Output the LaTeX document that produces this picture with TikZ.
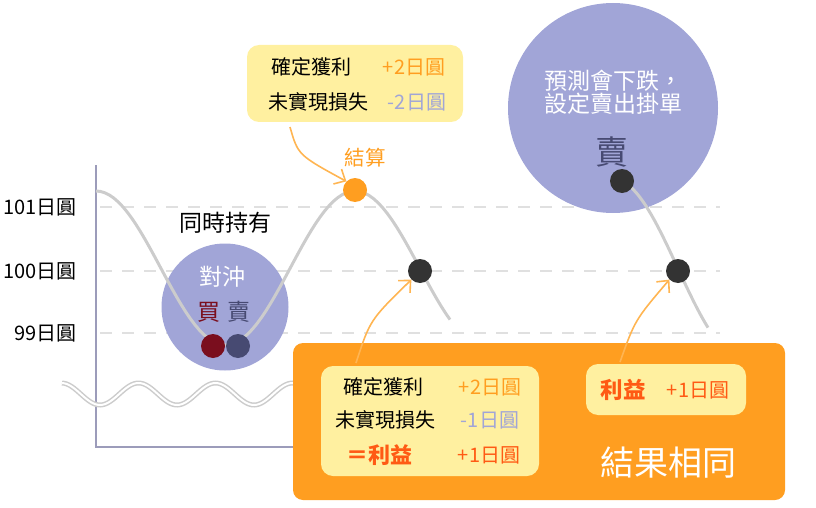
\documentclass[tikz,border=0pt]{standalone}
\usepackage{fontspec}
\setmainfont{Noto Sans CJK TC}
\usetikzlibrary{arrows.meta}
\definecolor{zise}{HTML}{A1A5D7}
\definecolor{cheng}{HTML}{FF9E20}
\definecolor{huang}{HTML}{FFF0A0}
\definecolor{hong}{HTML}{FF5A14}
\definecolor{qiancheng}{HTML}{FFB552}
\definecolor{hui}{HTML}{CCCCCC}
\definecolor{zhou}{HTML}{9C9CBA}
\definecolor{shenhong}{HTML}{7A0E1E}
\definecolor{shenlan}{HTML}{474A72}
\newcommand{\fs}[1]{\fontsize{#1}{#1}\selectfont}
\begin{document}
\begin{tikzpicture}[x=1pt,y=-1pt,font=\fs{20},>={Straight Barb[length=9pt,width=17pt]},
  dot/.style={circle,minimum size=24pt,inner sep=0pt},
  note/.style={fill=huang,rounded corners=12pt,inner sep=0pt},
  gridline/.style={hui!60,line width=1.5pt,dash pattern=on 12pt off 10pt},
  wave/.style={hui,line width=3pt},
  callarrow/.style={->,qiancheng,line width=1.6pt}]
  \useasboundingbox (0,0) rectangle (816,508);
  % 價格虛線
  \foreach \y/\t in {207/101,271/100,333/99} {
    \draw[gridline] (100,\y) -- (720,\y);
    \node[anchor=east] (p\t) at (80,\y) {\t 日圓};
  }
  % 坐標軸
  \draw[zhou,line width=1.3pt] (96,165) -- (96,447) -- (300,447);
  % 圓
  \node[circle,fill=zise,minimum size=127pt,inner sep=0pt] (hedge) at (225,307) {};
  \node[circle,fill=zise,minimum size=210pt,inner sep=0pt] (predict) at (613,108) {};
  % 價格曲線 (半週期 129.5)
  \draw[wave] plot[domain=96:450,samples=80] (\x,{268-77*cos(1.39*(\x-96))});
  \draw[wave] plot[domain=622:708,samples=30] (\x,{268-89*cos(1.39*(\x-613))});
  % 省略波浪
  \draw[hui,line width=5pt] plot[domain=62:300,samples=100] (\x,{394+11*sin(4.675*(\x-100)+90)});
  \draw[white,line width=2pt] plot[domain=62:300,samples=100] (\x,{394+11*sin(4.675*(\x-100)+90)});
  % 文字
  \node[font=\fs{23}] (hold) at (225,223) {同時持有};
  \node[white,font=\fs{23}] (duichong) at (222,277) {對沖};
  \node[shenhong,font=\fs{23}] (buy) at (209,312) {買};
  \node[shenlan,font=\fs{23}] (sell) at (239,312) {賣};
  \node[white,font=\fs{23},align=center] (predtext) at (613,92) {預測會下跌，\\設定賣出掛單};
  \node[shenlan,font=\fs{33}] (sell2) at (612,152) {賣};
  \node[cheng,font=\fs{20.5}] (jiesuan) at (365,158) {結算};
  % 點
  \node[dot,fill=shenhong] (d1) at (213,346) {};
  \node[dot,fill=shenlan] (d2) at (238,346) {};
  \node[dot,fill=cheng] (settle) at (355,190) {};
  \node[dot,fill=black!80] (hit1) at (420,271) {};
  \node[dot,fill=black!80] (order) at (622,181) {};
  \node[dot,fill=black!80] (hit2) at (678,271) {};
  % 上方說明
  \node[note,minimum width=216pt,minimum height=77pt] (topnote) at (355,83.5) {};
  \node (t1) at (311,67) {確定獲利};
  \node[cheng] (t2) at (414,67) {+2日圓};
  \node (t3) at (318,102) {未實現損失};
  \node[zise] (t4) at (417,102) {-2日圓};
  \coordinate (a0) at (290,127);
  \draw[callarrow] (a0) .. controls (298,155) .. (settle.north west);
  % 結果
  \node[fill=cheng,rounded corners=10pt,minimum width=492pt,minimum height=157pt,inner sep=0pt] (result) at (539,421.5) {};
  \node[note,minimum width=218pt,minimum height=110pt] (leftnote) at (430,421) {};
  \node (b1) at (383,387) {確定獲利};
  \node[cheng] (b2) at (490,387) {+2日圓};
  \node (b3) at (385,420) {未實現損失};
  \node[zise] (b4) at (490,420) {-1日圓};
  \node[hong,font=\fs{22}\bfseries] (b5) at (379,455) {＝利益};
  \node[hong] (b6) at (489,455) {+1日圓};
  \node[note,minimum width=160pt,minimum height=51pt] (rightnote) at (666,389.5) {};
  \node[hong,font=\fs{22.5}\bfseries] (r1) at (623,390) {利益};
  \node[hong] (r2) at (698,390) {+1日圓};
  \node[white,font=\fs{34}] (same) at (668,463) {結果相同};
  \coordinate (a1) at (356,363);
  \coordinate (a2) at (620,362);
  \draw[callarrow] (a1) .. controls (370,320) .. (hit1.south west);
  \draw[callarrow] (a2) .. controls (635,320) .. (hit2.south west);
\end{tikzpicture}
\end{document}
